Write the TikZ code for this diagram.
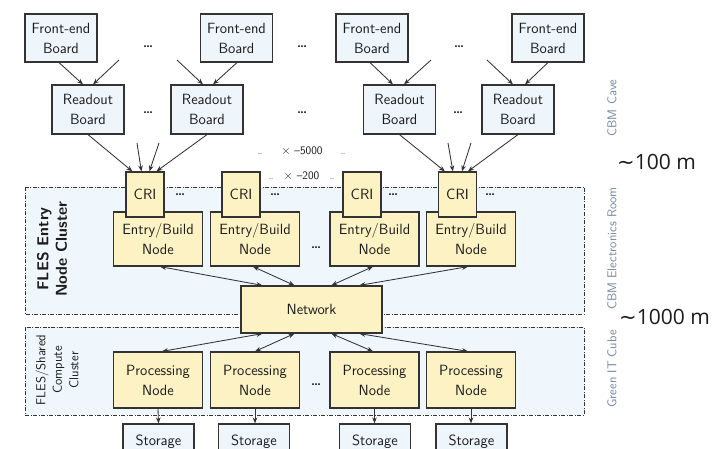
\documentclass[tikz,border=0pt]{standalone}
\usepackage{fontspec}
\newfontfamily\distfont{Open Sans}
\newfontfamily\tildefont{DejaVu Sans}
\usetikzlibrary{arrows.meta}

\definecolor{boardfill}{HTML}{EEF5FB}
\definecolor{nodefill}{HTML}{FCF2C4}
\definecolor{clusterfill}{HTML}{F0F7FC}
\definecolor{edgecol}{HTML}{333333}
\definecolor{roomcol}{HTML}{7788A4}
\definecolor{inkcol}{HTML}{1C1C1C}

\begin{document}
\begin{tikzpicture}[x=1pt,y=-1pt,
  box/.style={draw=edgecol, line width=1.2pt, text=inkcol, align=center, inner sep=0pt,
    font=\sffamily\fontsize{14.8}{20}\selectfont},
  board/.style={box, fill=boardfill, minimum width=72pt, minimum height=48pt},
  cri/.style={box, fill=nodefill, minimum width=38pt, minimum height=45pt},
  compnode/.style={box, fill=nodefill, minimum width=89pt, minimum height=54pt},
  procnode/.style={box, fill=nodefill, minimum width=89pt, minimum height=56pt},
  store/.style={box, fill=boardfill, minimum width=71pt, minimum height=36pt},
  cluster/.style={draw=edgecol, line width=0.7pt, fill=clusterfill,
    dash pattern=on 4pt off 1.5pt on 1pt off 1.5pt},
  tip/.tip={Stealth[length=6pt,width=4.6pt]},
  link/.style={draw=edgecol, line width=0.85pt, -tip},
  biglink/.style={link, tip-tip},
  more/.style={text=inkcol, inner sep=0pt, font=\sffamily\bfseries\fontsize{13}{14}\selectfont},
  room/.style={rotate=90, text=roomcol, inner sep=0pt, font=\sffamily\fontsize{12.8}{14}\selectfont},
  mult/.style={text=inkcol, inner sep=0pt, font=\sffamily\fontsize{11.5}{12}\selectfont},
  multdots/.style={text=inkcol, inner sep=0pt, font=\sffamily\fontsize{6.5}{7}\selectfont},
  dist/.style={text=inkcol, anchor=west, inner sep=0pt, font=\distfont\fontsize{21}{24}\selectfont}
]
\fill[white] (0,0) rectangle (714,449);
\clip (0,0) rectangle (714,449);

% cluster areas
\draw[cluster] (25,187) rectangle (584,314);
\draw[cluster] (25,327) rectangle (584,415);

% front-end boards
\node[board] (fe1) at (61,38)    {Front-end\\Board};
\node[board] (fe2) at (236.5,38) {Front-end\\Board};
\node[board] (fe3) at (372,38)   {Front-end\\Board};
\node[board] (fe4) at (548,38)   {Front-end\\Board};

% readout boards
\node[board, minimum height=49pt] (rb1) at (88,109.5)    {Readout\\Board};
\node[board, minimum height=49pt] (rb2) at (207,109.5)   {Readout\\Board};
\node[board, minimum height=49pt] (rb3) at (399.5,109.5) {Readout\\Board};
\node[board, minimum height=49pt] (rb4) at (518,109.5)   {Readout\\Board};

% entry / build nodes
\node[compnode] (eb1) at (158,239)   {Entry/Build\\Node};
\node[compnode] (eb2) at (255,239)   {Entry/Build\\Node};
\node[compnode] (eb3) at (374.5,239) {Entry/Build\\Node};
\node[compnode] (eb4) at (471,239)   {Entry/Build\\Node};

% CRI boards on top of the entry nodes
\node[cri] (cri1) at (145,194.5)   {CRI};
\node[cri] (cri2) at (241,194.5)   {CRI};
\node[cri] (cri3) at (362,194.5)   {CRI};
\node[cri] (cri4) at (457.5,194.5) {CRI};

% network
\node[box, fill=nodefill, minimum width=141pt, minimum height=47pt] (net) at (311.5,309.5) {Network};

% processing nodes
\node[procnode] (pn1) at (158,380)   {Processing\\Node};
\node[procnode] (pn2) at (255,380)   {Processing\\Node};
\node[procnode] (pn3) at (374.5,380) {Processing\\Node};
\node[procnode] (pn4) at (471,380)   {Processing\\Node};

% storage
\node[store] (st1) at (158.5,442) {Storage};
\node[store] (st2) at (254,442)   {Storage};
\node[store] (st3) at (375,442)   {Storage};
\node[store] (st4) at (471.5,442) {Storage};

% elided boards
\node[more] at (148,47) {\ldots};
\node[more] at (302,47) {\ldots};
\node[more] at (459,47) {\ldots};
\node[more] at (148,113) {\ldots};
\node[more] at (302,113) {\ldots};
\node[more] at (458,113) {\ldots};
\node[more] at (180,195) {\ldots};
\node[more] at (275,195) {\ldots};
\node[more] at (393,195) {\ldots};
\node[more] at (490,195) {\ldots};
\node[more] at (316,248) {\ldots};
\node[more] at (316,385) {\ldots};

% multiplicities
\node[multdots] at (260,154) {\ldots};
\node[mult] at (302,151) {\(\times\) –5000};
\node[multdots] at (343,154) {\ldots};
\node[multdots] at (271,179) {\ldots};
\node[mult] at (301.5,176) {\(\times\) –200};
\node[multdots] at (332,179) {\ldots};

% loose ends of the fan-in links
\coordinate (in1a) at (119,60);
\coordinate (in2a) at (177,60);
\coordinate (in3a) at (431,60);
\coordinate (in4a) at (487,60);
\coordinate (c1a) at (137,143);
\coordinate (c1b) at (159,143);
\coordinate (c4a) at (448,143);
\coordinate (c4b) at (471,143);

% front-end -> readout
\draw[link] ([xshift=-2pt]fe1.south) -- ([xshift=-5pt]rb1.north);
\draw[link] (in1a) -- ([xshift=5pt]rb1.north);
\draw[link] (in2a) -- ([xshift=-4pt]rb2.north);
\draw[link] ([xshift=0.5pt]fe2.south) -- ([xshift=6pt]rb2.north);
\draw[link] ([xshift=-2pt]fe3.south) -- ([xshift=-6.5pt]rb3.north);
\draw[link] (in3a) -- ([xshift=4.5pt]rb3.north);
\draw[link] (in4a) -- ([xshift=-5pt]rb4.north);
\draw[link] (fe4.south) -- ([xshift=7pt]rb4.north);

% readout -> CRI
\draw[link] (rb1.south) -- ([xshift=7pt]cri1.north west);
\draw[link] (c1a) -- ([xshift=16pt]cri1.north west);
\draw[link] (c1b) -- ([xshift=24pt]cri1.north west);
\draw[link] (rb2.south) -- ([xshift=31pt]cri1.north west);
\draw[link] (rb3.south) -- ([xshift=7pt]cri4.north west);
\draw[link] (c4a) -- ([xshift=15pt]cri4.north west);
\draw[link] (c4b) -- ([xshift=24pt]cri4.north west);
\draw[link] (rb4.south) -- ([xshift=30pt]cri4.north west);

% entry nodes <-> network
\draw[biglink] ([xshift=2pt]eb1.south) -- ([xshift=22pt]net.north west);
\draw[biglink] ([xshift=-2pt]eb2.south) -- ([xshift=54pt]net.north west);
\draw[biglink] ([xshift=-1.5pt]eb3.south) -- ([xshift=91pt]net.north west);
\draw[biglink] ([xshift=-3pt]eb4.south) -- ([xshift=119pt]net.north west);

% network <-> processing nodes
\draw[biglink] ([xshift=22pt]net.south west) -- ([xshift=4pt]pn1.north);
\draw[biglink] ([xshift=54pt]net.south west) -- (pn2.north);
\draw[biglink] ([xshift=91pt]net.south west) -- ([xshift=-1.5pt]pn3.north);
\draw[biglink] ([xshift=119pt]net.south west) -- ([xshift=-3pt]pn4.north);

% processing -> storage
\draw[link] (pn1.south) -- (st1.north);
\draw[link] (pn2.south) -- ([xshift=1pt]st2.north);
\draw[link] (pn3.south) -- ([xshift=-0.5pt]st3.north);
\draw[link] (pn4.south) -- ([xshift=-0.5pt]st4.north);

% cluster titles
\node[rotate=90, text=inkcol, align=center, inner sep=0pt,
  font=\sffamily\bfseries\fontsize{15.8}{18.5}\selectfont] (entrytitle) at (52,249) {FLES Entry\\Node Cluster};
\node[rotate=90, text=inkcol, align=center, inner sep=0pt,
  font=\sffamily\fontsize{13}{16.5}\selectfont] (computetitle) at (57,370) {FLES/Shared\\Compute\\Cluster};

% locations
\node[room] (cave) at (612,108) {CBM Cave};
\node[room] (eroom) at (612,248.5) {CBM Electronics Room};
\node[room] (cube) at (612,369) {Green IT Cube};

% distances
\node[dist] (d100) at (617,162) {{\tildefont ∼}100 m};
\node[dist] (d1000) at (619,317) {{\tildefont ∼}1000 m};
\end{tikzpicture}
\end{document}
